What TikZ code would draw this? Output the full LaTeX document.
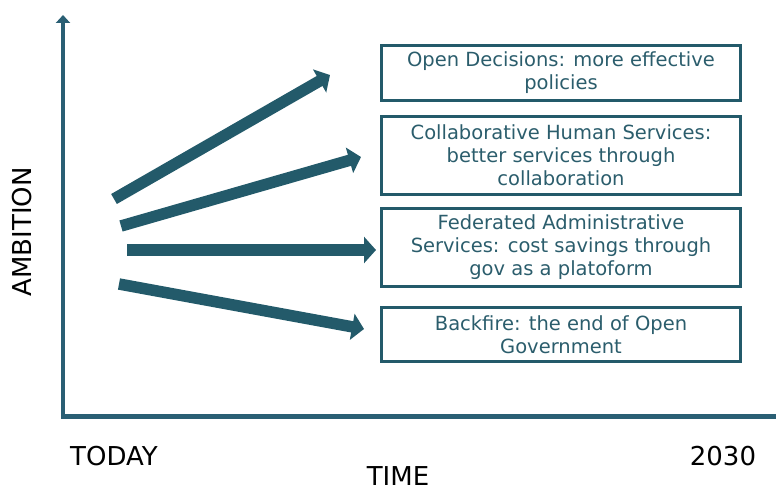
\documentclass[tikz,border=0pt]{standalone}
\usepackage{fontspec}
\setmainfont{DejaVu Sans}
\usetikzlibrary{arrows.meta}
\definecolor{scendark}{HTML}{235A6A}
\definecolor{scenaxis}{HTML}{2A5F74}
\definecolor{scentext}{HTML}{2B5D6C}
\tikzset{
  outcome/.style={draw=scendark, line width=3pt, text=scentext, align=center,
    anchor=north west, inner sep=0pt, minimum width=359pt,
    font=\fontsize{19.5}{23}\selectfont},
  trend/.style={draw=scendark, line width=11.5pt,
    -{Triangle[length=12pt,width=26pt]}},
  axislabel/.style={font=\fontsize{26}{30}\selectfont, inner sep=0pt}
}
\begin{document}
\begin{tikzpicture}[x=1pt,y=-1pt]
        \useasboundingbox (0,0) rectangle (776,489);
        % axes
        \coordinate (origin) at (63,416.5);
        \coordinate (ytop)   at (63,15);
        \coordinate (xend)   at (776,416.5);
        \draw [scenaxis, line width=4.5pt, -{Triangle[length=8pt,width=14pt]}] (origin) -- (ytop);
        \draw [scenaxis, line width=5pt]  (61,416.5) -- (xend);             %
        \node [axislabel, rotate=90] (amb)   at (22,232)  {AMBITION};       %
        \node [axislabel]            (today) at (114,456) {TODAY};          %
        \node [axislabel]            (year)  at (723,456) {2030};           %
        \node [axislabel]            (time)  at (398,476.5) {TIME};         %
        % outcomes
        \node [outcome, minimum height=55pt] (open)  at (380,44)  {Open Decisions: more effective\\policies};
        \node [outcome, minimum height=78pt] (collab) at (380,115) {Collaborative Human Services:\\better services through\\collaboration};
        \node [outcome, minimum height=78pt] (fed)   at (380,207) {Federated Administrative\\Services: cost savings through\\gov as a platoform};
        \node [outcome, minimum height=54pt] (back)  at (380,306) {Backfire: the end of Open\\Government};
        % trends
        \coordinate (s1) at (114,199);  \coordinate (e1) at (330,75);       %up
        \coordinate (s2) at (121,226);  \coordinate (e2) at (361,157);      %
        \coordinate (s3) at (127,250);  \coordinate (e3) at (376,250);      %flat
        \coordinate (s4) at (119,284);  \coordinate (e4) at (364,329);      %down
        \draw [trend] (s1) -- (e1);
        \draw [trend] (s2) -- (e2);
        \draw [trend] (s3) -- (e3);
        \draw [trend] (s4) -- (e4);
\end{tikzpicture}
\end{document}
